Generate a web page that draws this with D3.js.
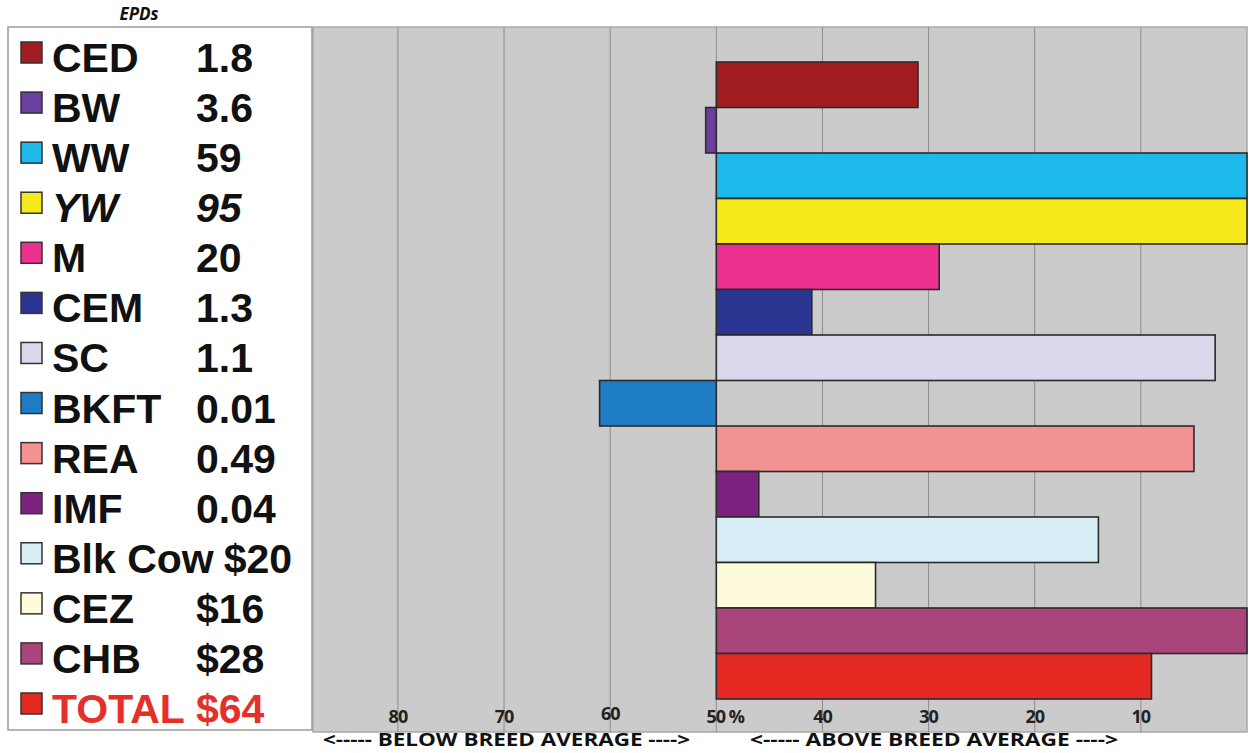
<!DOCTYPE html>
<html>
<head>
<meta charset="utf-8">
<script src="https://cdn.jsdelivr.net/npm/d3@7"></script>
<style>
  body { margin: 0; background: #fff; }
  svg { display: block; }
</style>
</head>
<body>
<svg class="vis-principal" width="1258" height="753"></svg>
<script>
// dados
const categorias = ["CED", "BW", "WW", "YW", "M", "CEM", "SC", "BKFT", "REA", "IMF", "Blk Cow", "CEZ", "CHB", "TOTAL"];
const epds       = ["1.8", "3.6", "59", "95", "20", "1.3", "1.1", "0.01", "0.49", "0.04", "$20", "$16", "$28", "$64"];
const percentis  = [31, 51, 0, 0, 29, 41, 3, 61, 5, 46, 14, 35, 0, 9];
const cores      = ["#a11d22", "#6a3fa0", "#1cb9ea", "#f6e91b", "#ec3090", "#2a3592", "#d9d8ec", "#1f7dc6",
                    "#f29292", "#7d2180", "#d8eef7", "#fdfbdc", "#a9457a", "#e52a24"];
const ticks_x    = [80, 70, 60, 50, 40, 30, 20, 10];
const italicos   = ["YW"];

const svg = d3.select("svg.vis-principal");

const plot = { left: 313, right: 1247, top: 27, bottom: 732 };
const cor_texto = "#111";
const cor_total = "#e5302a";

const dados = categorias.map((c, i) => ({ categoria: c, epd: epds[i], pct: percentis[i], cor: cores[i] }));

// escalas
const x = d3.scaleLinear()
    .domain([88, 0])
    .range([plot.left, plot.right]);

const y = d3.scaleBand()
    .domain(categorias)
    .range([62, 699])
    .padding(0);

const y_leg = d3.scalePoint()
    .domain(categorias)
    .range([72, 723]);

// fundo do gráfico
svg.append("rect")
    .attr("x", plot.left)
    .attr("y", plot.top)
    .attr("width", plot.right - plot.left)
    .attr("height", plot.bottom - plot.top)
    .attr("fill", "#cbcbcb")
    .attr("stroke", "#a9a9a9")
    .attr("stroke-width", 1.5);

// grade vertical
svg.append("g")
    .selectAll("line")
    .data(ticks_x)
    .join("line")
    .attr("x1", d => x(d))
    .attr("x2", d => x(d))
    .attr("y1", plot.top)
    .attr("y2", plot.bottom)
    .attr("stroke", "#8c8c8c")
    .attr("stroke-width", 1);

// barras, sempre saindo da linha dos 50%
svg.append("g")
    .selectAll("rect")
    .data(dados)
    .join("rect")
    .attr("x", d => Math.min(x(50), x(d.pct)))
    .attr("y", d => y(d.categoria))
    .attr("width", d => Math.abs(x(d.pct) - x(50)))
    .attr("height", y.bandwidth())
    .attr("fill", d => d.cor)
    .attr("stroke", "#2b2b2b")
    .attr("stroke-width", 1.6);

// rótulos do eixo x
svg.append("g")
    .selectAll("text")
    .data(ticks_x)
    .join("text")
    .attr("x", d => x(d))
    .attr("y", d => d == 60 ? 720 : 723)
    .attr("dx", d => d == 50 ? 9 : 0)
    .attr("text-anchor", "middle")
    .attr("font-family", "Open Sans")
    .attr("font-weight", "bold")
    .attr("font-size", 18)
    .attr("letter-spacing", -1)
    .attr("fill", "#222")
    .text(d => d == 50 ? "50 %" : d);

// textos abaixo do gráfico
svg.append("text")
    .attr("x", 323).attr("y", 746)
    .attr("textLength", 367).attr("lengthAdjust", "spacingAndGlyphs")
    .attr("font-family", "Open Sans").attr("font-weight", "bold").attr("font-size", 17)
    .attr("fill", "#111")
    .text("<----- BELOW BREED AVERAGE  ---->");

svg.append("text")
    .attr("x", 750).attr("y", 746)
    .attr("textLength", 368).attr("lengthAdjust", "spacingAndGlyphs")
    .attr("font-family", "Open Sans").attr("font-weight", "bold").attr("font-size", 17)
    .attr("fill", "#111")
    .text("<-----  ABOVE BREED AVERAGE  ---->");

// legenda
svg.append("rect")
    .attr("x", 8).attr("y", 27)
    .attr("width", 304).attr("height", 703)
    .attr("fill", "#fff")
    .attr("stroke", "#9a9a9a")
    .attr("stroke-width", 1.5);

svg.append("text")
    .attr("x", 139).attr("y", 20)
    .attr("text-anchor", "middle")
    .attr("font-family", "Open Sans").attr("font-weight", "bold").attr("font-style", "italic")
    .attr("font-size", 17)
    .attr("fill", "#111")
    .text("EPDs");

const itens = svg.append("g")
    .selectAll("g")
    .data(dados)
    .join("g")
    .attr("transform", d => "translate(0," + y_leg(d.categoria) + ")");

itens.append("rect")
    .attr("x", 21).attr("y", -30)
    .attr("width", 21).attr("height", 21)
    .attr("fill", d => d.cor)
    .attr("stroke", "#333")
    .attr("stroke-width", 1.5);

const rotulos = itens.append("text")
    .attr("x", 52)
    .attr("font-family", "Liberation Sans, Arial")
    .attr("font-weight", "bold")
    .attr("font-size", 41)
    .attr("font-style", d => italicos.includes(d.categoria) ? "italic" : "normal")
    .attr("fill", d => d.categoria == "TOTAL" ? cor_total : cor_texto)
    .text(d => d.categoria);

// valor vai na coluna da direita, ou logo depois do rótulo se ele for comprido
itens.append("text")
    .attr("x", function(d, i) {
        const fim = 52 + rotulos.nodes()[i].getComputedTextLength();
        return Math.max(196, fim + 10);
    })
    .attr("font-family", "Liberation Sans, Arial")
    .attr("font-weight", "bold")
    .attr("font-size", 41)
    .attr("font-style", d => italicos.includes(d.categoria) ? "italic" : "normal")
    .attr("fill", d => d.categoria == "TOTAL" ? cor_total : cor_texto)
    .text(d => d.epd);
</script>
</body>
</html>
